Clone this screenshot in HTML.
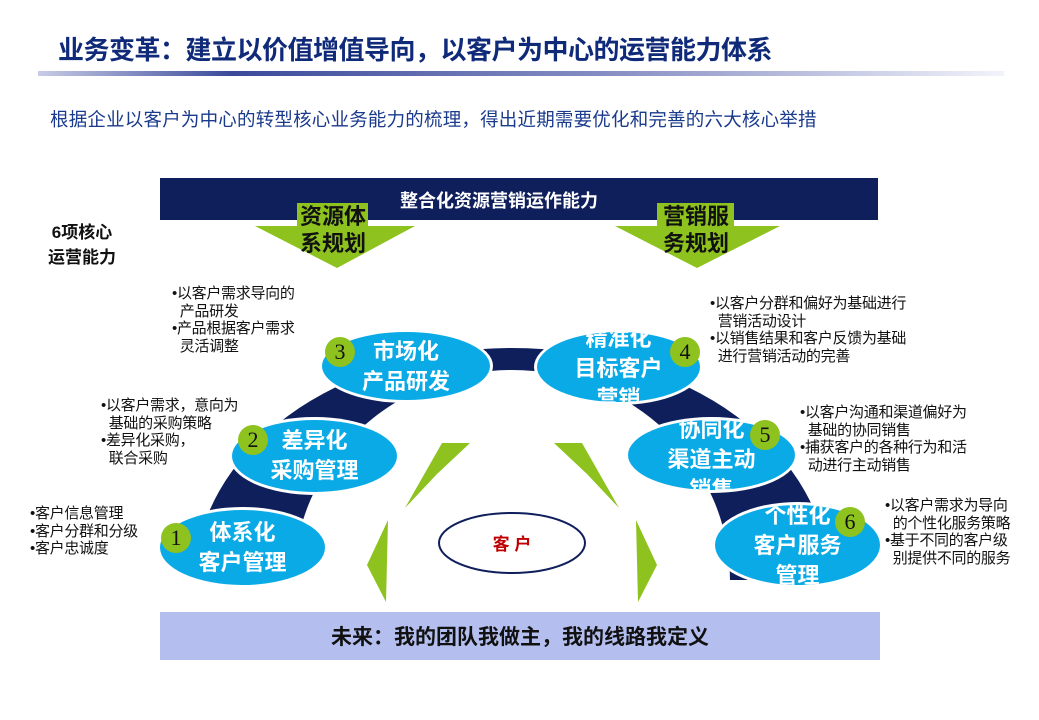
<!DOCTYPE html>
<html><head><meta charset="utf-8"><style>
body{margin:0;width:1039px;height:720px;background:#fff;position:relative;overflow:hidden;font-family:"Liberation Sans","Noto Sans CJK SC",sans-serif}
.a{position:absolute;white-space:nowrap}
.b{font-size:15px;color:#111;line-height:17.5px;letter-spacing:-0.3px}
.e{position:absolute;color:#fff;font-weight:bold;font-size:22px;text-align:center;line-height:30px;overflow:hidden;border-radius:50%;background:#0aaae6;box-shadow:0 0 0 3px #fff}
.n{position:absolute;width:30px;height:30px;border-radius:50%;background:#8dc21f;font-family:"Liberation Serif",serif;font-size:22px;line-height:30px;text-align:center;color:#111}
.g{position:absolute;font-size:22px;font-weight:bold;color:#111;line-height:27px;text-align:center}
</style></head><body>
<div class="a" style="left:58px;top:30px;font-size:26px;font-weight:bold;color:#102a7a;letter-spacing:-0.5px">业务变革：建立以价值增值导向，以客户为中心的运营能力体系</div>
<div class="a" style="left:38px;top:71px;width:966px;height:5px;background:linear-gradient(90deg,#c8cce6,#3a4a9a 20%,#8890c4 60%,#f2f3fa)"></div>
<div class="a" style="left:50px;top:106px;font-size:18.5px;color:#1a3a8c;letter-spacing:0.2px">根据企业以客户为中心的转型核心业务能力的梳理，得出近期需要优化和完善的六大核心举措</div>
<div class="a" style="left:160px;top:178px;width:718px;height:42px;background:#0f1f5c"></div>
<div class="a" style="left:400px;top:187px;font-size:18px;font-weight:bold;color:#fff">整合化资源营销运作能力</div>
<div class="a" style="left:48px;top:220px;font-size:17px;font-weight:bold;color:#111;text-align:center;line-height:25px">6项核心<br>运营能力</div>
<svg class="a" style="left:0;top:0" width="1039" height="720">
<polygon points="297,203 368,203 368,226 415,226 337,268 255,226 297,226" fill="#8dc21f"/>
<polygon points="657,203 734,203 734,226 780,226 697,268 615,226 657,226" fill="#8dc21f"/>
<path d="M195,580 A317,232 0 0 1 829,580 L730,580 A218,210 0 0 0 294,580 Z" fill="#0f1f5c"/>
<polygon points="442,443 470,443 437,474 405,508" fill="#8dc21f"/>
<polygon points="388,520 386,602 367,565" fill="#8dc21f"/>
<polygon points="582,443 554,443 587,474 619,508" fill="#8dc21f"/>
<polygon points="636,520 638,602 657,565" fill="#8dc21f"/>
<ellipse cx="512" cy="543" rx="73" ry="30" fill="#fff" stroke="#0f1f5c" stroke-width="2"/>
<text x="512" y="550" font-size="17" font-weight="bold" fill="#c00000" text-anchor="middle" font-family="Liberation Sans,Noto Sans CJK SC,sans-serif">客 户</text>
</svg>
<div class="g" style="left:296px;top:203px;width:74px">资源体<br>系规划</div>
<div class="g" style="left:657px;top:203px;width:78px">营销服<br>务规划</div>
<div class="e" style="left:322px;top:332px;width:168px;height:68px"><div style="margin-top:5px">市场化<br>产品研发</div></div>
<div class="e" style="left:537px;top:332px;width:163px;height:70px"><div style="margin-top:-8px">精准化<br>目标客户<br>营销</div></div>
<div class="e" style="left:232px;top:420px;width:165px;height:72px"><div style="margin-top:6px">差异化<br>采购管理</div></div>
<div class="e" style="left:628px;top:420px;width:167px;height:70px"><div style="margin-top:-5px">协同化<br>渠道主动<br>销售</div></div>
<div class="e" style="left:160px;top:510px;width:165px;height:75px"><div style="margin-top:8px">体系化<br>客户管理</div></div>
<div class="e" style="left:715px;top:505px;width:165px;height:80px"><div style="margin-top:-4px">个性化<br>客户服务<br>管理</div></div>
<div class="n" style="left:325px;top:337px">3</div>
<div class="n" style="left:670px;top:337px">4</div>
<div class="n" style="left:238px;top:425px">2</div>
<div class="n" style="left:750px;top:420px">5</div>
<div class="n" style="left:161px;top:523px">1</div>
<div class="n" style="left:835px;top:507px">6</div>
<div class="a b" style="left:172px;top:285px">•以客户需求导向的<br>&nbsp;&nbsp;产品研发<br>•产品根据客户需求<br>&nbsp;&nbsp;灵活调整</div>
<div class="a b" style="left:101px;top:397px">•以客户需求，意向为<br>&nbsp;&nbsp;基础的采购策略<br>•差异化采购，<br>&nbsp;&nbsp;联合采购</div>
<div class="a b" style="left:30px;top:505px">•客户信息管理<br>•客户分群和分级<br>•客户忠诚度</div>
<div class="a b" style="left:710px;top:295px">•以客户分群和偏好为基础进行<br>&nbsp;&nbsp;营销活动设计<br>•以销售结果和客户反馈为基础<br>&nbsp;&nbsp;进行营销活动的完善</div>
<div class="a b" style="left:800px;top:404px">•以客户沟通和渠道偏好为<br>&nbsp;&nbsp;基础的协同销售<br>•捕获客户的各种行为和活<br>&nbsp;&nbsp;动进行主动销售</div>
<div class="a b" style="left:885px;top:497px">•以客户需求为导向<br>&nbsp;&nbsp;的个性化服务策略<br>•基于不同的客户级<br>&nbsp;&nbsp;别提供不同的服务</div>
<div class="a" style="left:160px;top:612px;width:720px;height:48px;background:#b4bff0"></div>
<div class="a" style="left:160px;top:621px;width:720px;text-align:center;font-size:21px;font-weight:bold;color:#111">未来：我的团队我做主，我的线路我定义</div>
</body></html>
